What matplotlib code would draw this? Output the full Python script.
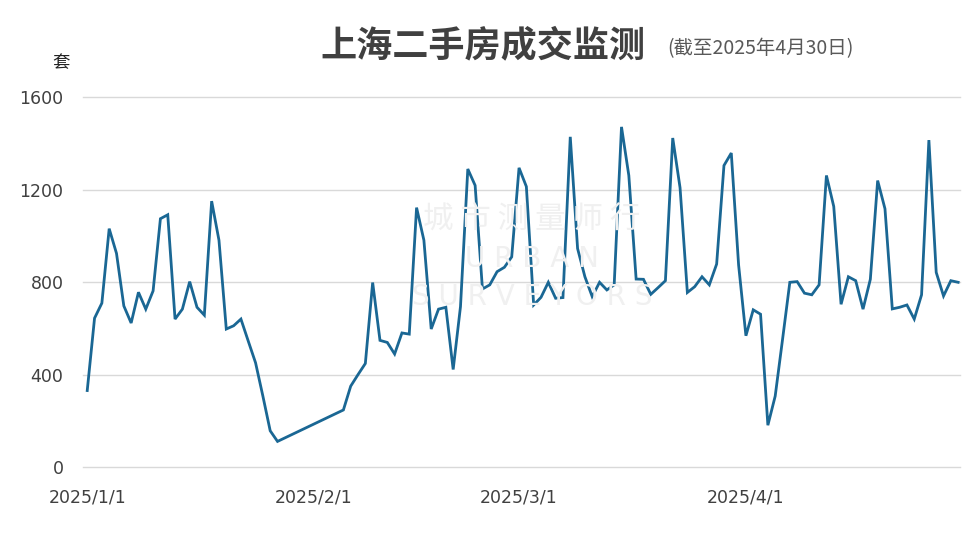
import matplotlib.pyplot as plt
import pandas as pd

# daily second-hand housing deals in Shanghai (sets), Spring Festival gap 1/28-2/4 has no data
jan_dates = pd.date_range("2025-01-01", "2025-01-27")
jan_vals = [332, 645, 710, 1032, 925, 698, 624, 757, 684, 763, 1075, 1092, 641, 684,
            803, 692, 658, 1151, 982, 598, 612, 641, 546, 452, 308, 158, 112]
feb_dates = pd.date_range("2025-02-05", "2025-02-28")
feb_vals = [248, 351, 401, 449, 799, 549, 540, 490, 581, 576, 1123, 982, 598, 684,
            692, 423, 695, 1290, 1219, 771, 789, 846, 865, 910]
mar_dates = pd.date_range("2025-03-01", "2025-03-31")
mar_vals = [1295, 1214, 702, 735, 800, 731, 734, 1429, 946, 824, 738, 800, 767, 789,
            1472, 1262, 814, 813, 748, 777, 807, 1424, 1209, 756, 781, 824, 789, 879,
            1305, 1359, 875]
apr_dates = pd.date_range("2025-04-01", "2025-04-30")
apr_vals = [569, 681, 662, 182, 308, 552, 800, 803, 753, 746, 789, 1262, 1128, 705,
            824, 807, 684, 813, 1240, 1118, 685, 692, 702, 641, 746, 1415, 843, 741,
            807, 800]

tick_dates = ["2025-01-01", "2025-02-01", "2025-03-01", "2025-04-01"]
tick_labels = ["2025/1/1", "2025/2/1", "2025/3/1", "2025/4/1"]
yticks = [0, 400, 800, 1200, 1600]

fonts = ["DejaVu Sans", "Noto Sans CJK SC"]
cjk = ["Noto Sans CJK SC", "DejaVu Sans"]
text_color = "#404040"
line_color = "#1a6794"
wm_color = "#f0f0f0"


def main():
    dates = jan_dates.append([feb_dates, mar_dates, apr_dates])
    vals = jan_vals + feb_vals + mar_vals + apr_vals

    fig = plt.figure(figsize=(9.76, 5.56), dpi=100)
    ax = fig.add_axes([0.085, 0.1595, 0.8986, 0.6655])

    # faint watermark
    fig.text(0.545, 0.605, "城 市 测 量 师 行", family=cjk, fontsize=22, color=wm_color,
             ha="center", va="center", zorder=0)
    fig.text(0.545, 0.535, "U R B A N", family=fonts, fontsize=20, color=wm_color,
             ha="center", va="center", zorder=0)
    fig.text(0.545, 0.465, "S U R V E Y O R S", family=fonts, fontsize=20, color=wm_color,
             ha="center", va="center", zorder=0)
    ax.patch.set_alpha(0)

    ax.plot(dates, vals, color=line_color, linewidth=2.0, solid_joinstyle="miter", zorder=3)

    ax.set_ylim(0, 1600)
    ax.set_yticks(yticks)
    ax.set_yticklabels([str(v) for v in yticks])
    start = pd.Timestamp("2025-01-01")
    ax.set_xlim(start - pd.Timedelta(hours=14), start + pd.Timedelta(days=119, hours=6))
    ax.set_xticks([pd.Timestamp(d) for d in tick_dates])
    ax.set_xticklabels(tick_labels)

    ax.grid(axis="y", color="#d9d9d9", linewidth=1.0)
    for gl in ax.get_ygridlines():
        gl.set_clip_on(False)
    ax.set_axisbelow(True)
    for s in ax.spines.values():
        s.set_visible(False)
    ax.tick_params(axis="both", length=0, labelsize=12.5, colors=text_color)
    ax.tick_params(axis="x", pad=15)
    ax.tick_params(axis="y", pad=14)
    for lbl in ax.get_xticklabels() + ax.get_yticklabels():
        lbl.set_family(fonts)

    fig.text(0.495, 0.918, "上海二手房成交监测", family=cjk, fontsize=26, fontweight="bold",
             color=text_color, ha="center", va="center")
    fig.text(0.684, 0.913, "(截至2025年4月30日)", family=cjk, fontsize=14,
             color="#595959", ha="left", va="center")
    fig.text(0.062, 0.887, "套", family=cjk, fontsize=12.5, color="#222222",
             ha="center", va="center")

    fig.savefig("out.png", dpi=100, facecolor="white")


main()
